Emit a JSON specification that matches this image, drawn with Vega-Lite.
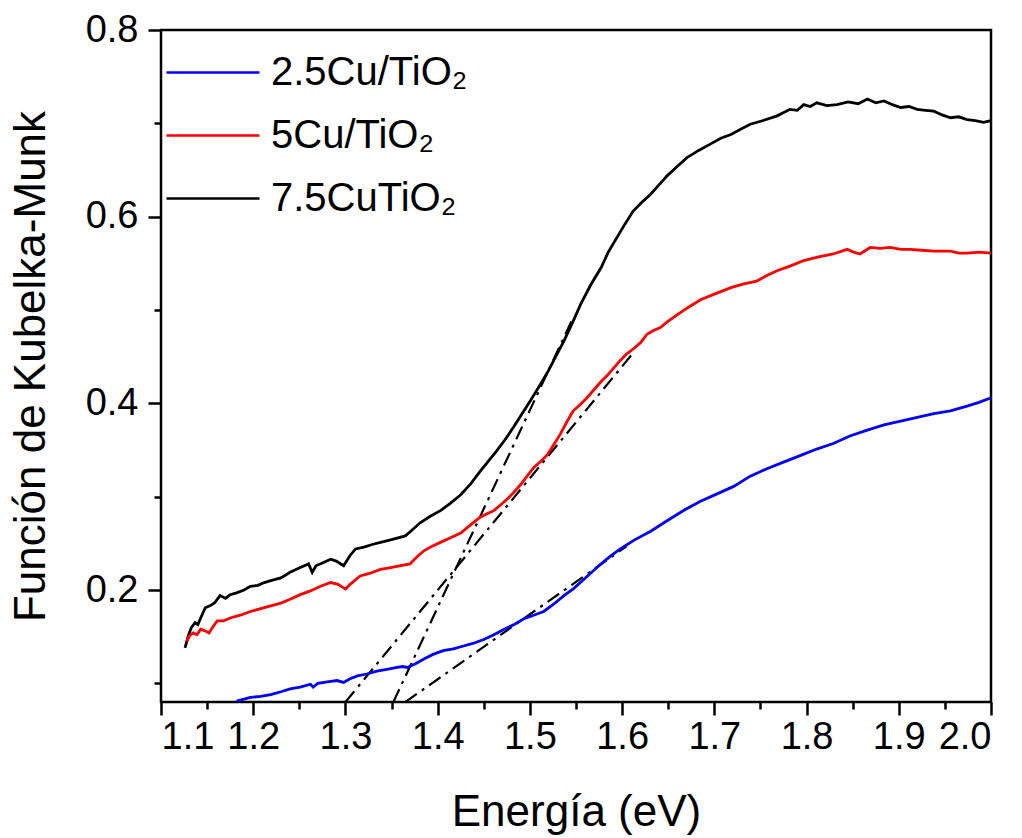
{
  "$schema": "https://vega.github.io/schema/vega-lite/v6.json",
  "width": 830,
  "height": 672,
  "autosize": {"type": "none"},
  "padding": {"left": 161, "top": 30, "right": 31, "bottom": 136},
  "config": {
    "view": {"stroke": "black", "strokeWidth": 2.5},
    "font": "Liberation Sans",
    "axis": {"labelColor": "black", "tickColor": "black", "titleColor": "black", "domain": false, "grid": false, "tickWidth": 2.5, "labelFont": "Liberation Sans", "titleFont": "Liberation Sans", "titleFontWeight": "normal"}
  },
  "datasets": {
    "tangents": [
      {"id": "t1", "E": 1.365, "F": 0.080}, {"id": "t1", "E": 1.605, "F": 0.247},
      {"id": "t2", "E": 1.300, "F": 0.080}, {"id": "t2", "E": 1.612, "F": 0.454},
      {"id": "t3", "E": 1.352, "F": 0.080}, {"id": "t3", "E": 1.547, "F": 0.492}
    ],
    "curves": [
      {"s": "7.5CuTiO₂", "E": 1.126, "F": 0.138}, {"s": "7.5CuTiO₂", "E": 1.130, "F": 0.152}, {"s": "7.5CuTiO₂", "E": 1.133, "F": 0.160}, {"s": "7.5CuTiO₂", "E": 1.137, "F": 0.165}, {"s": "7.5CuTiO₂", "E": 1.140, "F": 0.163}, {"s": "7.5CuTiO₂", "E": 1.143, "F": 0.170}, {"s": "7.5CuTiO₂", "E": 1.148, "F": 0.181}, {"s": "7.5CuTiO₂", "E": 1.153, "F": 0.183}, {"s": "7.5CuTiO₂", "E": 1.158, "F": 0.186}, {"s": "7.5CuTiO₂", "E": 1.164, "F": 0.194}, {"s": "7.5CuTiO₂", "E": 1.170, "F": 0.191}, {"s": "7.5CuTiO₂", "E": 1.175, "F": 0.195}, {"s": "7.5CuTiO₂", "E": 1.182, "F": 0.197}, {"s": "7.5CuTiO₂", "E": 1.190, "F": 0.200}, {"s": "7.5CuTiO₂", "E": 1.197, "F": 0.204}, {"s": "7.5CuTiO₂", "E": 1.205, "F": 0.205}, {"s": "7.5CuTiO₂", "E": 1.212, "F": 0.208}, {"s": "7.5CuTiO₂", "E": 1.219, "F": 0.210}, {"s": "7.5CuTiO₂", "E": 1.230, "F": 0.213}, {"s": "7.5CuTiO₂", "E": 1.240, "F": 0.219}, {"s": "7.5CuTiO₂", "E": 1.251, "F": 0.224}, {"s": "7.5CuTiO₂", "E": 1.260, "F": 0.228}, {"s": "7.5CuTiO₂", "E": 1.264, "F": 0.219}, {"s": "7.5CuTiO₂", "E": 1.268, "F": 0.226}, {"s": "7.5CuTiO₂", "E": 1.275, "F": 0.229}, {"s": "7.5CuTiO₂", "E": 1.284, "F": 0.233}, {"s": "7.5CuTiO₂", "E": 1.290, "F": 0.231}, {"s": "7.5CuTiO₂", "E": 1.298, "F": 0.226}, {"s": "7.5CuTiO₂", "E": 1.305, "F": 0.237}, {"s": "7.5CuTiO₂", "E": 1.311, "F": 0.244}, {"s": "7.5CuTiO₂", "E": 1.320, "F": 0.246}, {"s": "7.5CuTiO₂", "E": 1.330, "F": 0.249}, {"s": "7.5CuTiO₂", "E": 1.338, "F": 0.251}, {"s": "7.5CuTiO₂", "E": 1.350, "F": 0.254}, {"s": "7.5CuTiO₂", "E": 1.365, "F": 0.258}, {"s": "7.5CuTiO₂", "E": 1.372, "F": 0.264}, {"s": "7.5CuTiO₂", "E": 1.381, "F": 0.272}, {"s": "7.5CuTiO₂", "E": 1.392, "F": 0.279}, {"s": "7.5CuTiO₂", "E": 1.403, "F": 0.285}, {"s": "7.5CuTiO₂", "E": 1.414, "F": 0.293}, {"s": "7.5CuTiO₂", "E": 1.425, "F": 0.302}, {"s": "7.5CuTiO₂", "E": 1.436, "F": 0.314}, {"s": "7.5CuTiO₂", "E": 1.446, "F": 0.327}, {"s": "7.5CuTiO₂", "E": 1.455, "F": 0.338}, {"s": "7.5CuTiO₂", "E": 1.464, "F": 0.349}, {"s": "7.5CuTiO₂", "E": 1.473, "F": 0.361}, {"s": "7.5CuTiO₂", "E": 1.482, "F": 0.374}, {"s": "7.5CuTiO₂", "E": 1.491, "F": 0.388}, {"s": "7.5CuTiO₂", "E": 1.500, "F": 0.402}, {"s": "7.5CuTiO₂", "E": 1.510, "F": 0.418}, {"s": "7.5CuTiO₂", "E": 1.519, "F": 0.433}, {"s": "7.5CuTiO₂", "E": 1.528, "F": 0.450}, {"s": "7.5CuTiO₂", "E": 1.537, "F": 0.467}, {"s": "7.5CuTiO₂", "E": 1.546, "F": 0.486}, {"s": "7.5CuTiO₂", "E": 1.555, "F": 0.506}, {"s": "7.5CuTiO₂", "E": 1.566, "F": 0.527}, {"s": "7.5CuTiO₂", "E": 1.577, "F": 0.545}, {"s": "7.5CuTiO₂", "E": 1.585, "F": 0.562}, {"s": "7.5CuTiO₂", "E": 1.594, "F": 0.577}, {"s": "7.5CuTiO₂", "E": 1.603, "F": 0.592}, {"s": "7.5CuTiO₂", "E": 1.612, "F": 0.606}, {"s": "7.5CuTiO₂", "E": 1.622, "F": 0.616}, {"s": "7.5CuTiO₂", "E": 1.631, "F": 0.624}, {"s": "7.5CuTiO₂", "E": 1.640, "F": 0.634}, {"s": "7.5CuTiO₂", "E": 1.649, "F": 0.644}, {"s": "7.5CuTiO₂", "E": 1.660, "F": 0.654}, {"s": "7.5CuTiO₂", "E": 1.670, "F": 0.663}, {"s": "7.5CuTiO₂", "E": 1.683, "F": 0.671}, {"s": "7.5CuTiO₂", "E": 1.696, "F": 0.678}, {"s": "7.5CuTiO₂", "E": 1.707, "F": 0.684}, {"s": "7.5CuTiO₂", "E": 1.718, "F": 0.688}, {"s": "7.5CuTiO₂", "E": 1.729, "F": 0.694}, {"s": "7.5CuTiO₂", "E": 1.739, "F": 0.699}, {"s": "7.5CuTiO₂", "E": 1.753, "F": 0.703}, {"s": "7.5CuTiO₂", "E": 1.768, "F": 0.708}, {"s": "7.5CuTiO₂", "E": 1.782, "F": 0.715}, {"s": "7.5CuTiO₂", "E": 1.790, "F": 0.714}, {"s": "7.5CuTiO₂", "E": 1.797, "F": 0.720}, {"s": "7.5CuTiO₂", "E": 1.804, "F": 0.718}, {"s": "7.5CuTiO₂", "E": 1.811, "F": 0.722}, {"s": "7.5CuTiO₂", "E": 1.822, "F": 0.719}, {"s": "7.5CuTiO₂", "E": 1.833, "F": 0.720}, {"s": "7.5CuTiO₂", "E": 1.845, "F": 0.723}, {"s": "7.5CuTiO₂", "E": 1.856, "F": 0.721}, {"s": "7.5CuTiO₂", "E": 1.866, "F": 0.726}, {"s": "7.5CuTiO₂", "E": 1.875, "F": 0.722}, {"s": "7.5CuTiO₂", "E": 1.884, "F": 0.724}, {"s": "7.5CuTiO₂", "E": 1.893, "F": 0.720}, {"s": "7.5CuTiO₂", "E": 1.902, "F": 0.717}, {"s": "7.5CuTiO₂", "E": 1.911, "F": 0.718}, {"s": "7.5CuTiO₂", "E": 1.920, "F": 0.715}, {"s": "7.5CuTiO₂", "E": 1.929, "F": 0.714}, {"s": "7.5CuTiO₂", "E": 1.938, "F": 0.713}, {"s": "7.5CuTiO₂", "E": 1.947, "F": 0.709}, {"s": "7.5CuTiO₂", "E": 1.956, "F": 0.706}, {"s": "7.5CuTiO₂", "E": 1.965, "F": 0.707}, {"s": "7.5CuTiO₂", "E": 1.974, "F": 0.704}, {"s": "7.5CuTiO₂", "E": 1.983, "F": 0.703}, {"s": "7.5CuTiO₂", "E": 1.992, "F": 0.701}, {"s": "7.5CuTiO₂", "E": 2.000, "F": 0.703},

      {"s": "5Cu/TiO₂", "E": 1.128, "F": 0.145}, {"s": "5Cu/TiO₂", "E": 1.131, "F": 0.151}, {"s": "5Cu/TiO₂", "E": 1.135, "F": 0.154}, {"s": "5Cu/TiO₂", "E": 1.139, "F": 0.152}, {"s": "5Cu/TiO₂", "E": 1.143, "F": 0.158}, {"s": "5Cu/TiO₂", "E": 1.148, "F": 0.156}, {"s": "5Cu/TiO₂", "E": 1.152, "F": 0.154}, {"s": "5Cu/TiO₂", "E": 1.156, "F": 0.160}, {"s": "5Cu/TiO₂", "E": 1.161, "F": 0.167}, {"s": "5Cu/TiO₂", "E": 1.168, "F": 0.167}, {"s": "5Cu/TiO₂", "E": 1.175, "F": 0.170}, {"s": "5Cu/TiO₂", "E": 1.186, "F": 0.173}, {"s": "5Cu/TiO₂", "E": 1.197, "F": 0.177}, {"s": "5Cu/TiO₂", "E": 1.208, "F": 0.180}, {"s": "5Cu/TiO₂", "E": 1.219, "F": 0.183}, {"s": "5Cu/TiO₂", "E": 1.230, "F": 0.186}, {"s": "5Cu/TiO₂", "E": 1.240, "F": 0.190}, {"s": "5Cu/TiO₂", "E": 1.251, "F": 0.195}, {"s": "5Cu/TiO₂", "E": 1.262, "F": 0.199}, {"s": "5Cu/TiO₂", "E": 1.273, "F": 0.204}, {"s": "5Cu/TiO₂", "E": 1.284, "F": 0.208}, {"s": "5Cu/TiO₂", "E": 1.292, "F": 0.206}, {"s": "5Cu/TiO₂", "E": 1.300, "F": 0.201}, {"s": "5Cu/TiO₂", "E": 1.305, "F": 0.206}, {"s": "5Cu/TiO₂", "E": 1.316, "F": 0.215}, {"s": "5Cu/TiO₂", "E": 1.327, "F": 0.218}, {"s": "5Cu/TiO₂", "E": 1.338, "F": 0.222}, {"s": "5Cu/TiO₂", "E": 1.349, "F": 0.224}, {"s": "5Cu/TiO₂", "E": 1.360, "F": 0.226}, {"s": "5Cu/TiO₂", "E": 1.370, "F": 0.228}, {"s": "5Cu/TiO₂", "E": 1.378, "F": 0.236}, {"s": "5Cu/TiO₂", "E": 1.385, "F": 0.242}, {"s": "5Cu/TiO₂", "E": 1.394, "F": 0.247}, {"s": "5Cu/TiO₂", "E": 1.403, "F": 0.251}, {"s": "5Cu/TiO₂", "E": 1.414, "F": 0.256}, {"s": "5Cu/TiO₂", "E": 1.425, "F": 0.261}, {"s": "5Cu/TiO₂", "E": 1.436, "F": 0.270}, {"s": "5Cu/TiO₂", "E": 1.446, "F": 0.278}, {"s": "5Cu/TiO₂", "E": 1.454, "F": 0.282}, {"s": "5Cu/TiO₂", "E": 1.461, "F": 0.285}, {"s": "5Cu/TiO₂", "E": 1.468, "F": 0.291}, {"s": "5Cu/TiO₂", "E": 1.475, "F": 0.297}, {"s": "5Cu/TiO₂", "E": 1.483, "F": 0.305}, {"s": "5Cu/TiO₂", "E": 1.490, "F": 0.313}, {"s": "5Cu/TiO₂", "E": 1.497, "F": 0.322}, {"s": "5Cu/TiO₂", "E": 1.504, "F": 0.331}, {"s": "5Cu/TiO₂", "E": 1.512, "F": 0.338}, {"s": "5Cu/TiO₂", "E": 1.519, "F": 0.345}, {"s": "5Cu/TiO₂", "E": 1.526, "F": 0.356}, {"s": "5Cu/TiO₂", "E": 1.533, "F": 0.367}, {"s": "5Cu/TiO₂", "E": 1.540, "F": 0.380}, {"s": "5Cu/TiO₂", "E": 1.547, "F": 0.392}, {"s": "5Cu/TiO₂", "E": 1.555, "F": 0.399}, {"s": "5Cu/TiO₂", "E": 1.562, "F": 0.406}, {"s": "5Cu/TiO₂", "E": 1.569, "F": 0.414}, {"s": "5Cu/TiO₂", "E": 1.576, "F": 0.422}, {"s": "5Cu/TiO₂", "E": 1.584, "F": 0.430}, {"s": "5Cu/TiO₂", "E": 1.591, "F": 0.438}, {"s": "5Cu/TiO₂", "E": 1.598, "F": 0.446}, {"s": "5Cu/TiO₂", "E": 1.605, "F": 0.453}, {"s": "5Cu/TiO₂", "E": 1.613, "F": 0.459}, {"s": "5Cu/TiO₂", "E": 1.620, "F": 0.465}, {"s": "5Cu/TiO₂", "E": 1.627, "F": 0.474}, {"s": "5Cu/TiO₂", "E": 1.634, "F": 0.478}, {"s": "5Cu/TiO₂", "E": 1.641, "F": 0.481}, {"s": "5Cu/TiO₂", "E": 1.650, "F": 0.488}, {"s": "5Cu/TiO₂", "E": 1.660, "F": 0.495}, {"s": "5Cu/TiO₂", "E": 1.672, "F": 0.503}, {"s": "5Cu/TiO₂", "E": 1.685, "F": 0.511}, {"s": "5Cu/TiO₂", "E": 1.700, "F": 0.517}, {"s": "5Cu/TiO₂", "E": 1.718, "F": 0.524}, {"s": "5Cu/TiO₂", "E": 1.732, "F": 0.528}, {"s": "5Cu/TiO₂", "E": 1.746, "F": 0.531}, {"s": "5Cu/TiO₂", "E": 1.757, "F": 0.537}, {"s": "5Cu/TiO₂", "E": 1.768, "F": 0.542}, {"s": "5Cu/TiO₂", "E": 1.782, "F": 0.547}, {"s": "5Cu/TiO₂", "E": 1.797, "F": 0.553}, {"s": "5Cu/TiO₂", "E": 1.813, "F": 0.557}, {"s": "5Cu/TiO₂", "E": 1.829, "F": 0.560}, {"s": "5Cu/TiO₂", "E": 1.844, "F": 0.565}, {"s": "5Cu/TiO₂", "E": 1.851, "F": 0.562}, {"s": "5Cu/TiO₂", "E": 1.858, "F": 0.560}, {"s": "5Cu/TiO₂", "E": 1.869, "F": 0.567}, {"s": "5Cu/TiO₂", "E": 1.880, "F": 0.566}, {"s": "5Cu/TiO₂", "E": 1.891, "F": 0.567}, {"s": "5Cu/TiO₂", "E": 1.902, "F": 0.565}, {"s": "5Cu/TiO₂", "E": 1.912, "F": 0.565}, {"s": "5Cu/TiO₂", "E": 1.925, "F": 0.564}, {"s": "5Cu/TiO₂", "E": 1.938, "F": 0.563}, {"s": "5Cu/TiO₂", "E": 1.956, "F": 0.563}, {"s": "5Cu/TiO₂", "E": 1.965, "F": 0.561}, {"s": "5Cu/TiO₂", "E": 1.974, "F": 0.561}, {"s": "5Cu/TiO₂", "E": 1.987, "F": 0.562}, {"s": "5Cu/TiO₂", "E": 2.000, "F": 0.561},

      {"s": "2.5Cu/TiO₂", "E": 1.182, "F": 0.081}, {"s": "2.5Cu/TiO₂", "E": 1.190, "F": 0.083}, {"s": "2.5Cu/TiO₂", "E": 1.197, "F": 0.085}, {"s": "2.5Cu/TiO₂", "E": 1.208, "F": 0.086}, {"s": "2.5Cu/TiO₂", "E": 1.219, "F": 0.088}, {"s": "2.5Cu/TiO₂", "E": 1.230, "F": 0.091}, {"s": "2.5Cu/TiO₂", "E": 1.240, "F": 0.094}, {"s": "2.5Cu/TiO₂", "E": 1.251, "F": 0.096}, {"s": "2.5Cu/TiO₂", "E": 1.262, "F": 0.099}, {"s": "2.5Cu/TiO₂", "E": 1.265, "F": 0.096}, {"s": "2.5Cu/TiO₂", "E": 1.270, "F": 0.100}, {"s": "2.5Cu/TiO₂", "E": 1.284, "F": 0.102}, {"s": "2.5Cu/TiO₂", "E": 1.291, "F": 0.103}, {"s": "2.5Cu/TiO₂", "E": 1.298, "F": 0.101}, {"s": "2.5Cu/TiO₂", "E": 1.305, "F": 0.105}, {"s": "2.5Cu/TiO₂", "E": 1.313, "F": 0.108}, {"s": "2.5Cu/TiO₂", "E": 1.323, "F": 0.110}, {"s": "2.5Cu/TiO₂", "E": 1.334, "F": 0.113}, {"s": "2.5Cu/TiO₂", "E": 1.345, "F": 0.115}, {"s": "2.5Cu/TiO₂", "E": 1.356, "F": 0.117}, {"s": "2.5Cu/TiO₂", "E": 1.362, "F": 0.118}, {"s": "2.5Cu/TiO₂", "E": 1.367, "F": 0.117}, {"s": "2.5Cu/TiO₂", "E": 1.376, "F": 0.121}, {"s": "2.5Cu/TiO₂", "E": 1.385, "F": 0.126}, {"s": "2.5Cu/TiO₂", "E": 1.395, "F": 0.131}, {"s": "2.5Cu/TiO₂", "E": 1.406, "F": 0.135}, {"s": "2.5Cu/TiO₂", "E": 1.417, "F": 0.137}, {"s": "2.5Cu/TiO₂", "E": 1.428, "F": 0.140}, {"s": "2.5Cu/TiO₂", "E": 1.439, "F": 0.143}, {"s": "2.5Cu/TiO₂", "E": 1.450, "F": 0.147}, {"s": "2.5Cu/TiO₂", "E": 1.461, "F": 0.152}, {"s": "2.5Cu/TiO₂", "E": 1.472, "F": 0.158}, {"s": "2.5Cu/TiO₂", "E": 1.483, "F": 0.163}, {"s": "2.5Cu/TiO₂", "E": 1.493, "F": 0.169}, {"s": "2.5Cu/TiO₂", "E": 1.504, "F": 0.173}, {"s": "2.5Cu/TiO₂", "E": 1.515, "F": 0.177}, {"s": "2.5Cu/TiO₂", "E": 1.526, "F": 0.185}, {"s": "2.5Cu/TiO₂", "E": 1.537, "F": 0.194}, {"s": "2.5Cu/TiO₂", "E": 1.548, "F": 0.202}, {"s": "2.5Cu/TiO₂", "E": 1.558, "F": 0.211}, {"s": "2.5Cu/TiO₂", "E": 1.567, "F": 0.219}, {"s": "2.5Cu/TiO₂", "E": 1.576, "F": 0.227}, {"s": "2.5Cu/TiO₂", "E": 1.587, "F": 0.236}, {"s": "2.5Cu/TiO₂", "E": 1.598, "F": 0.244}, {"s": "2.5Cu/TiO₂", "E": 1.614, "F": 0.254}, {"s": "2.5Cu/TiO₂", "E": 1.631, "F": 0.263}, {"s": "2.5Cu/TiO₂", "E": 1.650, "F": 0.275}, {"s": "2.5Cu/TiO₂", "E": 1.668, "F": 0.286}, {"s": "2.5Cu/TiO₂", "E": 1.685, "F": 0.295}, {"s": "2.5Cu/TiO₂", "E": 1.703, "F": 0.303}, {"s": "2.5Cu/TiO₂", "E": 1.721, "F": 0.311}, {"s": "2.5Cu/TiO₂", "E": 1.739, "F": 0.322}, {"s": "2.5Cu/TiO₂", "E": 1.757, "F": 0.330}, {"s": "2.5Cu/TiO₂", "E": 1.775, "F": 0.337}, {"s": "2.5Cu/TiO₂", "E": 1.793, "F": 0.344}, {"s": "2.5Cu/TiO₂", "E": 1.811, "F": 0.351}, {"s": "2.5Cu/TiO₂", "E": 1.829, "F": 0.357}, {"s": "2.5Cu/TiO₂", "E": 1.847, "F": 0.365}, {"s": "2.5Cu/TiO₂", "E": 1.865, "F": 0.371}, {"s": "2.5Cu/TiO₂", "E": 1.884, "F": 0.377}, {"s": "2.5Cu/TiO₂", "E": 1.902, "F": 0.381}, {"s": "2.5Cu/TiO₂", "E": 1.920, "F": 0.385}, {"s": "2.5Cu/TiO₂", "E": 1.938, "F": 0.389}, {"s": "2.5Cu/TiO₂", "E": 1.956, "F": 0.392}, {"s": "2.5Cu/TiO₂", "E": 1.974, "F": 0.397}, {"s": "2.5Cu/TiO₂", "E": 1.987, "F": 0.401}, {"s": "2.5Cu/TiO₂", "E": 2.000, "F": 0.406}
    ]
  },
  "layer": [
    {
      "data": {"name": "tangents"},
      "mark": {"type": "line", "color": "black", "strokeWidth": 2.2, "strokeDash": [14, 6, 3, 6], "clip": true},
      "encoding": {
        "x": {"field": "E", "type": "quantitative", "scale": {"domain": [1.1, 2.0], "nice": false, "zero": false},
              "axis": {"orient": "bottom", "values": [1.15, 1.25, 1.35, 1.45, 1.55, 1.65, 1.75, 1.85, 1.95], "tickSize": 7, "labels": false, "title": null}},
        "y": {"field": "F", "type": "quantitative", "scale": {"domain": [0.08, 0.8], "nice": false, "zero": false},
              "axis": {"orient": "left", "values": [0.1, 0.3, 0.5, 0.7], "tickSize": 7, "labels": false, "title": null}},
        "detail": {"field": "id"}
      }
    },
    {
      "data": {"name": "curves"},
      "mark": {"type": "line", "strokeWidth": 2.8, "clip": true},
      "encoding": {
        "x": {"field": "E", "type": "quantitative",
              "axis": {"orient": "bottom", "values": [1.1, 1.2, 1.3, 1.4, 1.5, 1.6, 1.7, 1.8, 1.9, 2.0], "format": ".1f", "tickSize": 13, "labelFontSize": 38, "labelPadding": 3, "title": "Energía (eV)", "titleFontSize": 44, "titlePadding": 34}},
        "y": {"field": "F", "type": "quantitative",
              "axis": {"orient": "left", "values": [0.2, 0.4, 0.6, 0.8], "format": ".1f", "tickSize": 13, "labelFontSize": 38, "labelPadding": 10, "title": "Función de Kubelka-Munk", "titleFontSize": 44, "titlePadding": 32}},
        "color": {"field": "s", "type": "nominal",
                  "scale": {"domain": ["2.5Cu/TiO₂", "5Cu/TiO₂", "7.5CuTiO₂"], "range": ["#0000ff", "#ff0000", "#000000"]},
                  "legend": {"orient": "none", "legendX": 4, "legendY": 11, "title": null, "symbolType": "stroke", "symbolSize": 8649, "symbolStrokeWidth": 2.5, "labelFontSize": 40, "labelFont": "Liberation Sans", "labelColor": "black", "labelOffset": 10, "labelLimit": 500, "rowPadding": 0, "clipHeight": 63, "padding": 0}},
        "detail": {"field": "s"}
      }
    }
  ],
  "resolve": {"axis": {"x": "independent", "y": "independent"}}
}
